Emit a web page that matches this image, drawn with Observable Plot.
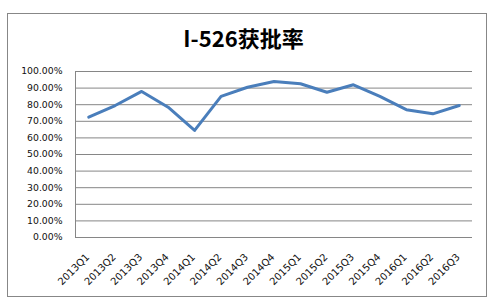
<!DOCTYPE html>
<html>
<head>
<meta charset="utf-8">
<script src="https://cdn.jsdelivr.net/npm/d3@7"></script>
<script src="https://cdn.jsdelivr.net/npm/@observablehq/plot@0.6"></script>
<style>
  html, body { margin: 0; padding: 0; background: #fff; }
  #wrap { position: relative; width: 497px; height: 307px; overflow: hidden; }
  #frame { position: absolute; left: 7px; top: 13px; width: 480px; height: 284px; box-sizing: border-box; border: 1px solid #878787; }
  #title { position: absolute; left: 0; width: 487px; top: 22px; text-align: center; font-family: "Noto Sans CJK SC", sans-serif; font-weight: bold; font-size: 22px; line-height: 30px; color: #000; }
  #chart { position: absolute; left: 0; top: 0; }
</style>
</head>
<body>
<div id="wrap">
  <div id="frame"></div>
  <div id="chart"></div>
  <div id="title">I-526获批率</div>
</div>
<script>
const categories = ["2013Q1","2013Q2","2013Q3","2013Q4","2014Q1","2014Q2","2014Q3","2014Q4","2015Q1","2015Q2","2015Q3","2015Q4","2016Q1","2016Q2","2016Q3"];
const rates = [0.725, 0.795, 0.88, 0.785, 0.645, 0.85, 0.905, 0.94, 0.926, 0.875, 0.92, 0.85, 0.77, 0.745, 0.795];
const yTicks = [0, 0.1, 0.2, 0.3, 0.4, 0.5, 0.6, 0.7, 0.8, 0.9, 1.0];

const data = categories.map((c, i) => ({i, c, v: rates[i]}));

const chart = Plot.plot({
  width: 497,
  height: 307,
  marginLeft: 75,
  marginRight: 25,
  marginTop: 71,
  marginBottom: 70,
  style: { background: "transparent", fontFamily: "DejaVu Sans, sans-serif", color: "#111" },
  x: { type: "linear", domain: [-0.5, categories.length - 0.5], axis: null },
  y: { domain: [0, 1], axis: null },
  marks: [
    Plot.ruleY(yTicks, { stroke: "#868686", strokeWidth: 1 }),
    Plot.ruleX([-0.5], { y1: 0, y2: 1, stroke: "#868686", strokeWidth: 1 }),
    Plot.axisY({ ticks: yTicks, tickFormat: d3.format(".2%"), tickSize: 0, tickPadding: 13, fontSize: 9.3, fill: "#111", label: null }),
    Plot.line(data, { x: "i", y: "v", stroke: "#4a7ebb", strokeWidth: 3, strokeLinejoin: "round", strokeLinecap: "round" }),
    Plot.text(data, { x: "i", y: 0, text: "c", rotate: -45, textAnchor: "end", dy: 18, dx: -1, fontSize: 10, fill: "#111" })
  ]
});
document.getElementById("chart").appendChild(chart);
</script>
</body>
</html>
